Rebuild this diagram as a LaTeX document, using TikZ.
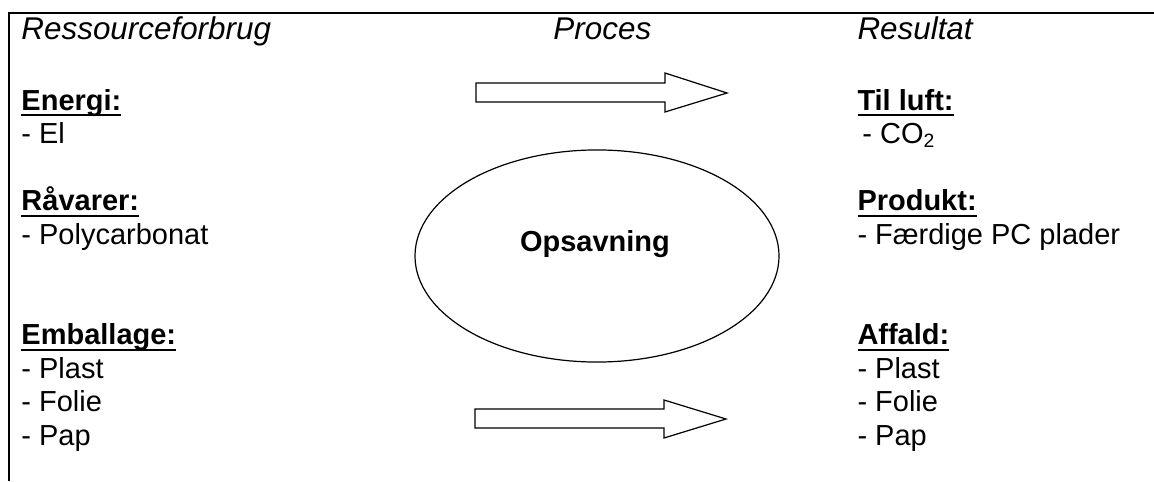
\documentclass[tikz,border=0pt]{standalone}
\usepackage{fontspec}
\setmainfont{Liberation Sans}
\usetikzlibrary{shapes.geometric}

% fed overskrift med understregning
\newcommand{\overskrift}[1]{\setbox0\hbox{\textbf{#1}}\rlap{\raisebox{-2.6pt}{\rule{\wd0}{0.8pt}}}\box0}

\begin{document}
\begin{tikzpicture}[x=0.414pt, y=-0.414pt,
    tekst/.style={anchor=base west, inner sep=0pt, font=\fontsize{12}{13.9}\selectfont},
    kolonne/.style={tekst, font=\fontsize{13}{15}\selectfont\itshape},
    blokpil/.style={draw, line width=0.5pt, fill=white}]

        \useasboundingbox (0,0) rectangle (1154,481);

        % Ramme
        \draw[line width=0.8pt] (9,481) -- (9,13) -- (1154,13);

        % Kolonneoverskrifter
        \node[kolonne] (ressource) at (21,40) {Ressourceforbrug};
        \node[kolonne] (proces) at (553,40) {Proces};
        \node[kolonne] (resultat) at (857,40) {Resultat};

        % Ressourceforbrug
        \node[tekst] (energi) at (21,110) {\overskrift{Energi:}};
        \node[tekst] (el) at (21,143.5) {- El};
        \node[tekst] (raavarer) at (21,210.5) {\overskrift{Råvarer:}};
        \node[tekst] (polycarbonat) at (21,244) {- Polycarbonat};
        \node[tekst] (emballage) at (21,344.5) {\overskrift{Emballage:}};
        \foreach \ting [count=\i] in {Plast,Folie,Pap}
            \node[tekst] (emballage\i) at (21,344.5+33.5*\i) {- \ting};

        % Resultat
        \node[tekst] (luft) at (857,110) {\overskrift{Til luft:}};
        \node[tekst] (co) at (862,143.5) {- CO\textsubscript{2}};
        \node[tekst] (produkt) at (857,210.5) {\overskrift{Produkt:}};
        \node[tekst] (plader) at (857,244) {- Færdige PC plader};
        \node[tekst] (affald) at (857,344.5) {\overskrift{Affald:}};
        \foreach \ting [count=\i] in {Plast,Folie,Pap}
            \node[tekst] (affald\i) at (857,344.5+33.5*\i) {- \ting};

        % Proces
        \node[draw, ellipse, line width=0.5pt, inner sep=0pt,
              minimum width=150.7pt, minimum height=87.8pt] (opsavningring) at (597,256) {};
        \node[tekst, anchor=base] (opsavning) at (595,251) {\textbf{Opsavning}};

        % Pile
        \draw[blokpil] (476,83) -- (665,83) -- (665,73) -- (727,93)
            -- (665,112) -- (665,102) -- (476,102) -- cycle;
        \draw[blokpil] (475,409) -- (664,409) -- (664,400) -- (726,419)
            -- (664,438) -- (664,428) -- (475,428) -- cycle;

\end{tikzpicture}
\end{document}
